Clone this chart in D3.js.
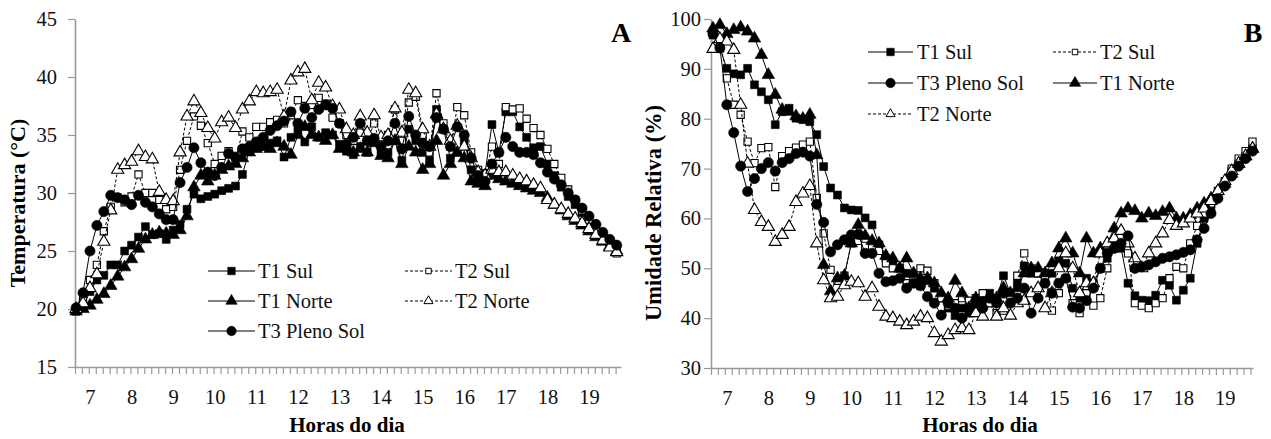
<!DOCTYPE html>
<html><head><meta charset="utf-8">
<script src="https://cdn.jsdelivr.net/npm/d3@7"></script>
<style>
body{margin:0;background:#fff}
svg{display:block;background:#fff}
svg text{font-family:"Liberation Serif","Times New Roman",serif !important;fill:#111}
.domain{stroke:#9a9a9a;stroke-width:1.6}
.tick line{stroke:#9a9a9a;stroke-width:1.2}
</style></head>
<body><svg id="c" width="1271" height="439"></svg>
<script>
const times = ["6:40","6:50","7:00","7:10","7:20","7:30","7:40","7:50","8:00","8:10",
"8:20","8:30","8:40","8:50","9:00","9:10","9:20","9:30","9:40","9:50",
"10:00","10:10","10:20","10:30","10:40","10:50","11:00","11:10","11:20","11:30",
"11:40","11:50","12:00","12:10","12:20","12:30","12:40","12:50","13:00","13:10",
"13:20","13:30","13:40","13:50","14:00","14:10","14:20","14:30","14:40","14:50",
"15:00","15:10","15:20","15:30","15:40","15:50","16:00","16:10","16:20","16:30",
"16:40","16:50","17:00","17:10","17:20","17:30","17:40","17:50","18:00","18:10",
"18:20","18:30","18:40","18:50","19:00","19:10","19:20","19:30","19:40"];

const hourTicks = [7,8,9,10,11,12,13,14,15,16,17,18,19];
const tempTicks = [15,20,25,30,35,40,45];
const humTicks = [30,40,50,60,70,80,90,100];

// Panel A: Temperatura (°C)
const tempT1Sul = [19.8,20.2,21.5,22.5,22.9,23.8,23.8,25.0,25.5,26.2,
 27.1,26.4,26.5,26.0,26.8,27.3,28.6,29.9,29.5,29.7,
 29.9,30.2,30.4,30.6,31.6,33.7,33.9,34.0,34.3,34.5,
 33.1,34.8,35.4,34.4,35.7,34.8,35.2,35.0,34.2,33.6,
 33.3,34.0,33.5,34.5,33.4,33.5,34.5,32.8,35.5,34.5,
 33.5,32.8,37.2,35.5,33.0,33.5,34.5,32.0,31.0,31.7,
 35.9,33.5,37.0,37.0,35.7,34.8,33.9,34.0,32.5,31.5,
 30.5,29.7,29.0,28.3,27.6,26.8,26.2,25.6,25.2];
const tempT2Sul = [20.0,20.8,22.5,23.8,26.7,28.8,29.6,29.2,29.7,31.6,
 30.0,30.0,29.4,28.6,28.8,32.0,34.5,36.6,35.8,34.3,
 32.5,33.2,33.6,32.8,35.3,34.8,35.7,35.7,36.1,36.3,
 36.0,36.7,38.0,37.5,37.6,38.2,37.7,36.5,36.0,35.0,
 34.5,35.2,34.5,36.0,34.0,35.0,37.2,34.5,37.8,38.3,
 35.0,33.5,38.6,36.0,34.0,37.4,36.7,33.5,32.0,31.5,
 34.0,32.5,37.4,37.2,37.3,36.4,35.6,35.0,33.8,32.5,
 31.3,30.3,29.4,28.5,27.7,26.9,26.2,25.5,24.8];
const tempT1Norte = [19.8,20.0,20.3,20.8,21.3,22.0,22.8,23.6,24.3,25.2,
 26.0,26.4,26.6,26.5,26.4,26.8,28.0,30.5,31.5,31.0,
 31.5,32.0,32.3,32.5,33.0,33.5,33.8,34.0,33.8,34.3,
 34.0,33.3,35.0,35.7,35.0,34.8,34.5,35.0,33.8,34.0,
 33.5,33.8,33.5,34.3,33.2,33.0,34.5,32.5,34.0,33.5,
 32.0,32.5,34.5,31.5,32.5,33.5,33.0,31.0,30.8,30.6,
 31.5,31.2,31.0,30.8,30.6,30.4,30.2,30.0,29.6,29.0,
 28.5,28.0,27.6,27.2,26.7,26.2,25.8,25.4,25.0];
const tempT2Norte = [20.0,20.5,21.8,23.0,25.8,28.5,32.0,32.4,32.7,33.6,
 33.1,32.9,30.1,29.4,29.3,33.5,36.6,37.9,36.9,35.6,
 34.7,36.1,36.5,35.6,37.2,37.9,38.7,38.6,38.7,38.9,
 36.6,39.7,40.4,40.7,38.0,39.5,39.1,37.5,37.2,35.5,
 35.0,36.6,35.2,36.7,34.8,35.0,37.3,35.2,38.9,38.6,
 35.5,34.0,36.8,35.5,34.5,35.8,34.0,33.0,31.8,31.5,
 32.0,31.8,31.8,31.5,31.2,31.0,30.7,30.4,29.4,29.0,
 28.6,28.2,27.8,27.4,26.9,26.4,25.9,25.3,24.9];
const tempT3 = [20.1,21.4,25.0,27.2,28.4,29.8,29.6,29.4,29.0,29.8,
 29.2,28.8,28.2,27.7,27.7,30.9,32.2,33.9,32.6,31.8,
 31.5,32.2,33.4,33.1,33.8,34.0,34.4,34.8,35.4,35.8,
 36.2,37.0,36.0,37.3,36.5,37.2,37.6,37.3,36.0,34.2,
 34.8,36.0,34.5,34.7,34.0,34.5,36.0,33.8,36.6,35.0,
 34.3,34.0,36.5,35.5,34.0,35.7,35.0,33.0,31.5,31.0,
 32.5,33.5,34.8,34.0,33.5,33.5,33.3,32.6,31.8,31.2,
 30.7,30.0,29.4,28.7,28.0,27.3,26.6,26.0,25.5];

// Panel B: Umidade Relativa (%)
const humT1Sul = [96.8,94.1,90.1,89.0,88.8,90.1,86.8,85.4,83.8,78.8,
 81.4,82.1,80.1,79.8,79.4,76.8,70.4,66.1,64.7,62.1,
 61.7,61.6,60.1,58.7,54.7,52.0,51.0,50.0,49.0,48.0,
 46.5,47.5,46.0,44.0,42.0,40.5,42.0,41.0,43.0,44.0,
 45.0,44.0,48.5,45.0,47.0,50.5,49.0,49.0,48.0,49.0,
 51.5,51.0,46.0,44.0,48.0,47.0,50.0,52.0,54.5,54.0,
 47.0,44.5,43.6,43.5,44.6,47.6,46.6,43.6,45.6,48.0,
 55.0,60.0,62.0,64.5,67.0,69.5,71.0,72.5,74.0];
const humT2Sul = [97.5,95.8,88.1,82.8,80.8,75.4,71.1,74.1,74.3,66.3,
 72.5,73.5,74.2,74.8,75.4,64.1,57.0,49.7,47.5,48.5,
 55.0,55.5,54.5,54.0,53.5,51.0,50.0,50.0,47.0,47.5,
 50.0,49.5,47.0,44.0,42.5,43.0,44.0,43.5,44.0,45.0,
 43.0,41.0,41.5,44.0,48.5,53.0,50.0,49.0,48.5,41.5,
 45.0,48.0,43.0,41.0,45.0,42.5,44.0,50.0,54.0,55.0,
 53.0,43.0,42.5,42.0,43.0,44.0,48.0,50.3,50.0,55.0,
 58.5,61.0,63.0,65.5,67.5,70.0,72.0,73.5,75.4];
const humT3 = [97.0,94.2,82.8,77.2,70.5,65.4,68.0,70.0,71.2,69.5,
 71.2,72.0,73.0,73.3,72.5,62.8,59.2,53.3,54.7,55.7,
 56.7,56.8,53.0,53.0,49.0,47.3,47.5,48.0,46.0,47.0,
 46.5,44.3,43.0,40.6,43.0,42.0,40.0,42.0,43.0,42.0,
 44.0,43.0,45.0,43.0,44.0,46.0,41.0,44.0,47.0,45.0,
 47.0,48.0,42.2,42.0,43.5,46.0,50.0,53.0,54.0,55.0,
 56.5,50.0,50.3,50.7,51.3,52.0,52.3,52.7,53.2,53.7,
 55.7,58.0,61.0,64.0,66.5,68.5,70.5,72.0,73.5];
const humT1Norte = [98.1,98.8,97.0,97.8,98.3,97.5,96.1,92.8,88.8,84.8,
 81.8,81.4,80.5,80.0,80.8,72.7,50.7,45.4,48.0,48.5,
 55.0,58.7,56.5,55.5,55.0,52.5,52.0,50.0,52.0,49.0,
 48.0,48.0,47.0,45.0,44.0,47.5,45.0,42.0,44.0,43.0,
 44.0,44.0,46.0,45.0,46.0,49.0,50.0,50.0,49.0,51.0,
 54.0,56.0,53.0,49.0,56.0,53.0,54.0,55.0,58.0,61.0,
 62.0,61.5,60.0,61.0,60.5,61.3,62.0,60.0,60.0,60.7,
 62.0,63.0,64.0,65.5,67.0,69.0,71.0,72.5,74.0];
const humT2Norte = [94.0,96.0,95.5,93.8,82.8,71.0,61.7,59.3,58.3,55.3,
 56.7,58.3,63.3,65.0,66.5,55.0,47.6,44.0,44.3,46.6,
 47.3,47.0,44.3,46.0,42.3,40.3,40.0,39.3,38.6,39.3,
 40.3,40.0,37.0,35.3,36.6,37.6,38.0,37.6,41.0,40.3,
 43.0,40.3,42.0,40.5,43.0,43.5,45.0,46.0,42.0,45.0,
 50.0,53.0,50.0,45.0,47.0,47.0,53.0,55.0,56.0,57.5,
 55.0,52.0,50.0,53.0,55.0,57.0,59.7,58.5,59.0,60.0,
 61.0,62.0,63.5,65.5,67.5,69.5,71.0,72.5,74.0];

// styles per series name
const styles = {
  "T1 Sul":      {shape: d3.symbolSquare,   fill: "#000", dash: null,  size: 62, lsize: 56},
  "T2 Sul":      {shape: d3.symbolSquare,   fill: "#fff", dash: "3,2", size: 52, lsize: 30},
  "T1 Norte":    {shape: d3.symbolTriangle, fill: "#000", dash: null,  size: 68, lsize: 56},
  "T2 Norte":    {shape: d3.symbolTriangle, fill: "#fff", dash: "3,2", size: 64, lsize: 36},
  "T3 Pleno Sol":{shape: d3.symbolCircle,   fill: "#000", dash: null,  size: 82, lsize: 70}
};
const SERIF = "'Liberation Serif','Times New Roman',serif";

const svg = d3.select("#c");
const tH = times.map(s => { const [h, m] = s.split(":").map(Number); return h + m / 60; });

function drawPanel(p) {
  const g = svg.append("g");
  const x = d3.scaleLinear().domain(p.xDomain).range(p.xRange);
  const y = d3.scaleLinear().domain(p.yDomain).range(p.yRange);

  // x minor ticks (every 10 minutes)
  const minor = d3.range(p.xDomain[0], p.xDomain[1] + 0.02, 1 / 6);
  g.append("g").attr("transform", `translate(0,${p.yRange[0]})`)
    .call(d3.axisBottom(x).tickValues(minor).tickSize(7).tickSizeOuter(0).tickFormat(""));
  const xl = g.append("g").attr("transform", `translate(0,${p.yRange[0]})`)
    .call(d3.axisBottom(x).tickValues(hourTicks).tickSize(0).tickPadding(22).tickFormat(d3.format("d")));
  xl.select(".domain").remove();

  // y axis
  g.append("g").attr("transform", `translate(${p.xRange[0]},0)`)
    .call(d3.axisLeft(y).tickValues(p.yTicks).tickSize(7).tickSizeOuter(0).tickPadding(p.yPad));

  g.selectAll("g").attr("font-family", SERIF).attr("font-size", 20.5);
  g.selectAll(".tick text").style("font-family", SERIF).style("font-size", "20.5px").style("fill", "#111");

  // series
  p.series.forEach(([name, vals]) => {
    const st = styles[name];
    const line = d3.line().x((d, i) => x(tH[i])).y(d => y(d));
    g.append("path").datum(vals).attr("d", line)
      .attr("fill", "none").attr("stroke", "#000").attr("stroke-width", 1)
      .attr("stroke-dasharray", st.dash);
    g.append("g").selectAll("path").data(vals).join("path")
      .attr("transform", (d, i) => `translate(${x(tH[i])},${y(d)})`)
      .attr("d", d3.symbol().type(st.shape).size(st.size))
      .attr("fill", st.fill).attr("stroke", "#000").attr("stroke-width", st.fill === "#fff" ? 1.1 : 0.6);
  });

  // legend
  p.legend.forEach(it => {
    const st = styles[it.name];
    g.append("line").attr("x1", it.x1).attr("x2", it.x2).attr("y1", it.y).attr("y2", it.y)
      .attr("stroke", "#000").attr("stroke-width", 1).attr("stroke-dasharray", st.dash);
    g.append("path").attr("transform", `translate(${(it.x1 + it.x2) / 2},${it.y})`)
      .attr("d", d3.symbol().type(st.shape).size(st.lsize))
      .attr("fill", st.fill).attr("stroke", "#000").attr("stroke-width", st.fill === "#fff" ? 1 : 0.6);
    g.append("text").attr("x", it.tx).attr("y", it.y).attr("dy", "0.35em")
      .style("font-family", SERIF).style("font-size", "20.5px").text(it.name);
  });

  // titles
  g.append("text").attr("x", p.letter[0]).attr("y", p.letter[1]).attr("text-anchor", "middle")
    .style("font-family", SERIF).style("font-size", "28px").attr("font-weight", "bold").style("fill", "#000").text(p.letterText);
  g.append("text").attr("x", p.xTitle[0]).attr("y", p.xTitle[1]).attr("text-anchor", "middle")
    .style("font-family", SERIF).style("font-size", "21px").attr("font-weight", "bold").style("fill", "#000").text("Horas do dia");
  g.append("text").attr("transform", `translate(${p.yTitle[0]},${p.yTitle[1]}) rotate(-90)`)
    .attr("text-anchor", "middle").style("font-family", SERIF).style("font-size", p.yTitleSize).attr("font-weight", "bold")
    .style("fill", "#000").text(p.yTitleText);
}

drawPanel({
  xDomain: [6.64, 19.77], xRange: [75, 621],
  yDomain: [15, 45], yRange: [367, 19], yTicks: tempTicks, yPad: 11,
  series: [["T1 Sul", tempT1Sul], ["T2 Sul", tempT2Sul], ["T1 Norte", tempT1Norte], ["T2 Norte", tempT2Norte], ["T3 Pleno Sol", tempT3]],
  legend: [
    {name: "T1 Sul", x1: 208, x2: 255, tx: 258, y: 271},
    {name: "T2 Sul", x1: 405, x2: 452, tx: 455, y: 271},
    {name: "T1 Norte", x1: 208, x2: 255, tx: 258, y: 301},
    {name: "T2 Norte", x1: 405, x2: 452, tx: 455, y: 301},
    {name: "T3 Pleno Sol", x1: 208, x2: 255, tx: 258, y: 331}
  ],
  letter: [621, 42], letterText: "A",
  xTitle: [347, 432],
  yTitle: [25, 203], yTitleSize: "22px", yTitleText: "Temperatura (°C)"
});

drawPanel({
  xDomain: [6.6185, 19.679], xRange: [711, 1253],
  yDomain: [30, 100], yRange: [368, 19], yTicks: humTicks, yPad: 3,
  series: [["T1 Sul", humT1Sul], ["T2 Sul", humT2Sul], ["T1 Norte", humT1Norte], ["T2 Norte", humT2Norte], ["T3 Pleno Sol", humT3]],
  legend: [
    {name: "T1 Sul", x1: 868, x2: 913, tx: 917, y: 52},
    {name: "T2 Sul", x1: 1053, x2: 1097, tx: 1100, y: 52},
    {name: "T3 Pleno Sol", x1: 868, x2: 913, tx: 917, y: 83},
    {name: "T1 Norte", x1: 1053, x2: 1097, tx: 1100, y: 83},
    {name: "T2 Norte", x1: 868, x2: 913, tx: 917, y: 114}
  ],
  letter: [1253, 42], letterText: "B",
  xTitle: [980, 432],
  yTitle: [661, 213], yTitleSize: "22.5px", yTitleText: "Umidade Relativa (%)"
});
</script>
</body></html>
